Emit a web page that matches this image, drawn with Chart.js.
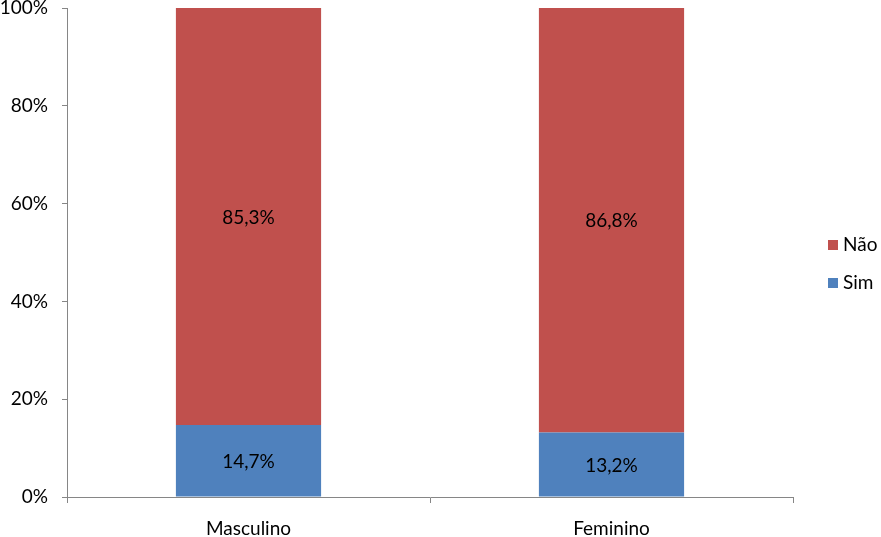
<!DOCTYPE html>
<html><head><meta charset="utf-8">
<script src="https://cdn.jsdelivr.net/npm/chart.js@4/dist/chart.umd.min.js"></script>
<style>html,body{margin:0;padding:0;background:#fff}#wrap{width:881px;height:537px}</style>
</head><body><div id="wrap"><canvas id="c" width="881" height="537"></canvas></div>
<script>
const categories = ["Masculino", "Feminino"];
const simValues = [14.7, 13.2];
const naoValues = [85.3, 86.8];
const seriesNames = ["Sim", "Não"];
const yTicks = [0, 20, 40, 60, 80, 100];

const FONT = "Lato, 'Open Sans', sans-serif";
const AXIS = '#868686';

const labelPlugin = {
  id: 'labels',
  afterDatasetsDraw(chart) {
    const ctx = chart.ctx;
    ctx.save();
    ctx.font = '19px ' + FONT;
    ctx.fillStyle = '#000';
    ctx.textAlign = 'center';
    ctx.textBaseline = 'middle';
    chart.data.datasets.forEach((ds, di) => {
      chart.getDatasetMeta(di).data.forEach((bar, i) => {
        const v = ds.data[i];
        const y = (bar.y + bar.base) / 2 + 1;
        ctx.fillText(v.toFixed(1).replace('.', ',') + '%', bar.x, y);
      });
    });
    ctx.restore();
  }
};

const legendPlugin = {
  id: 'customLegend',
  afterDraw(chart) {
    const ctx = chart.ctx;
    ctx.save();
    ctx.font = '19px ' + FONT;
    ctx.textBaseline = 'middle';
    ctx.textAlign = 'left';
    const items = [[seriesNames[1], '#C0504D', 245], [seriesNames[0], '#4F81BD', 283]];
    items.forEach(([t, c, y]) => {
      ctx.fillStyle = c;
      ctx.fillRect(828, y - 5, 10, 10);
      ctx.fillStyle = '#000';
      ctx.fillText(t, 843, y);
    });
    ctx.restore();
  }
};

new Chart(document.getElementById('c'), {
  type: 'bar',
  data: {
    labels: categories,
    datasets: [
      { label: seriesNames[0], data: simValues, backgroundColor: '#4F81BD', barPercentage: 0.4, categoryPercentage: 1 },
      { label: seriesNames[1], data: naoValues, backgroundColor: '#C0504D', barPercentage: 0.4, categoryPercentage: 1 }
    ]
  },
  options: {
    responsive: false,
    animation: false,
    events: [],
    layout: { padding: { top: 0, right: 88, left: 0, bottom: 0 } },
    plugins: { legend: { display: false }, tooltip: { enabled: false } },
    scales: {
      x: {
        stacked: true,
        border: { color: AXIS, width: 1 },
        grid: { offset: true, drawOnChartArea: false, color: AXIS, tickLength: 6 },
        ticks: { color: '#000', font: { family: FONT, size: 19 }, padding: 14 },
        afterFit(s) { s.height = 40; }
      },
      y: {
        stacked: true,
        min: 0, max: 100,
        afterBuildTicks(s) { s.ticks = yTicks.map(v => ({ value: v })); },
        border: { color: AXIS, width: 1 },
        grid: { drawOnChartArea: false, color: AXIS, tickLength: 5 },
        ticks: { color: '#000', font: { family: FONT, size: 19, lineHeight: 1 }, padding: 14, callback: v => v + '%' },
        afterFit(s) { s.width = 67; s.paddingTop = 8; }
      }
    }
  },
  plugins: [labelPlugin, legendPlugin]
});
</script></body></html>
